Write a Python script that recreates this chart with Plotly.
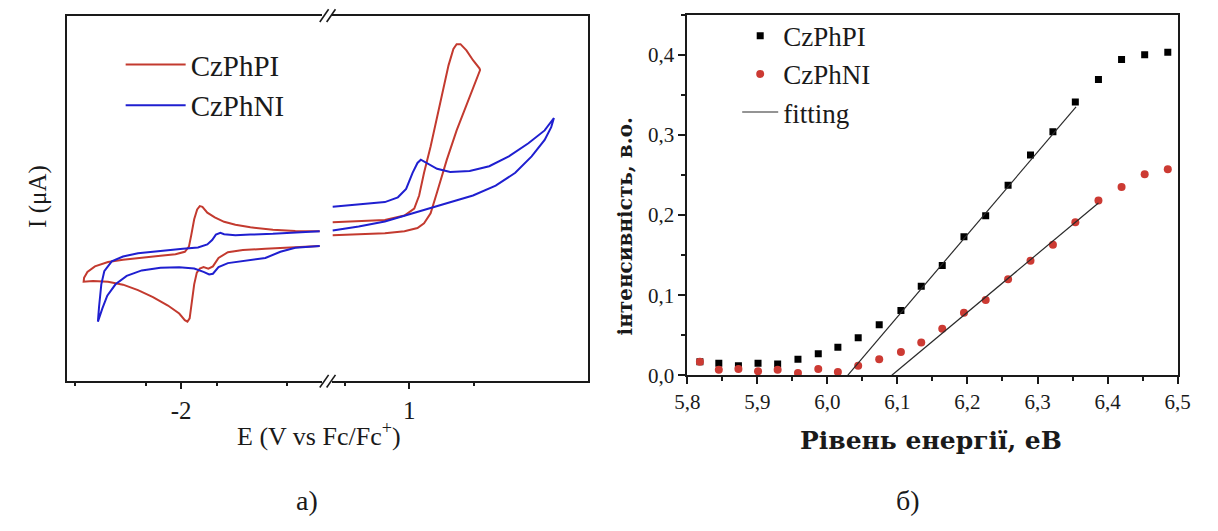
import plotly.graph_objects as go

W, H = 1218, 531

# ---------------- Panel a) : cyclic voltammetry ----------------
# reduction window (left of the axis break), E in V vs Fc/Fc+, I in arbitrary uA
pi_red_E = [-0.046, -0.39, -0.706, -1.023, -1.234, -1.393, -1.525, -1.630, -1.699, -1.736, -1.773,
            -1.815, -1.857, -1.889, -1.947, -2.079, -2.29, -2.554, -2.818, -3.03, -3.214, -3.32,
            -3.367, -3.373, -3.241, -3.03, -2.818, -2.607, -2.396, -2.185, -2.026, -1.947, -1.91,
            -1.879, -1.847, -1.815, -1.778, -1.736, -1.683, -1.615, -1.551, -1.472, -1.34, -1.129,
            -0.812, -0.495, -0.046]
pi_red_I = [41.05, 41.1, 41.4, 42.1, 42.8, 43.6, 44.8, 46.1, 47.7, 47.9, 47.0,
            44.3, 39.9, 36.8, 35.4, 34.7, 34.3, 33.8, 33.2, 32.6, 31.4, 29.9,
            28.3, 27.2, 27.4, 27.2, 26.4, 24.9, 23.0, 20.7, 18.5, 16.7, 16.3,
            17.2, 21.2, 26.5, 29.7, 30.8, 31.2, 30.8, 31.4, 33.7, 35.3, 35.9,
            36.2, 36.5, 37.0]
ni_red_E = [-0.046, -0.39, -0.706, -1.023, -1.234, -1.393, -1.446, -1.509, -1.562, -1.63, -1.762,
            -1.974, -2.185, -2.396, -2.607, -2.818, -2.977, -3.082, -3.124, -3.156, -3.172,
            -3.109, -3.04, -2.924, -2.766, -2.554, -2.29, -2.026, -1.815, -1.683, -1.604, -1.551,
            -1.472, -1.34, -1.129, -0.812, -0.6, -0.39, -0.046]
ni_red_I = [41.0, 40.6, 40.3, 40.1, 39.9, 40.2, 40.6, 40.1, 38.6, 37.4, 36.6,
            36.2, 35.8, 35.4, 35.0, 34.1, 32.8, 30.1, 26.5, 20.3, 16.3,
            19.9, 23.4, 26.5, 28.8, 30.3, 31.0, 31.2, 30.8, 29.9, 29.2, 29.4,
            31.2, 32.3, 32.8, 33.7, 35.4, 36.5, 37.0]

# oxidation window (right of the axis break)
pi_ox_E = [0.405, 0.607, 0.81, 0.962, 1.063, 1.114, 1.165, 1.215, 1.291, 1.367, 1.443, 1.506, 1.549,
           1.544, 1.494, 1.443, 1.397, 1.367, 1.342, 1.304, 1.266, 1.215, 1.165, 1.114, 1.076,
           1.038, 0.962, 0.81, 0.607, 0.405]
pi_ox_I = [39.9, 40.1, 40.5, 41.0, 41.9, 43.2, 45.9, 51.7, 60.6, 68.6, 75.7, 81.6, 85.1,
           85.6, 87.8, 90.5, 92.2, 92.2, 90.9, 86.4, 80.2, 72.2, 64.2, 57.0, 50.8,
           47.2, 45.3, 44.1, 43.7, 43.5]
ni_ox_E = [0.405, 0.607, 0.81, 0.911, 0.975, 1.025, 1.063, 1.089, 1.139, 1.215, 1.317, 1.468, 1.62,
           1.772, 1.924, 2.05, 2.122, 2.101, 2.05, 1.949, 1.822, 1.67, 1.494, 1.317, 1.165,
           0.987, 0.81, 0.607, 0.405]
ni_ox_I = [47.7, 48.3, 49.0, 50.3, 52.6, 57.0, 59.7, 60.6, 59.7, 58.1, 57.2, 57.5, 58.8,
           61.5, 65.1, 68.6, 72.0, 69.5, 66.0, 61.5, 57.0, 53.5, 50.8, 49.0, 47.4,
           45.5, 43.7, 42.3, 41.2]

# tick labels of the broken E axis
red_ticks = [-2]
red_ticktext = ["-2"]
ox_ticks = [1]
ox_ticktext = ["1"]

# ---------------- Panel б) : photoelectron yield ----------------
energy = [5.818, 5.845, 5.873, 5.901, 5.929, 5.958, 5.987, 6.015, 6.044, 6.074, 6.105, 6.134,
          6.164, 6.195, 6.226, 6.258, 6.290, 6.322, 6.354, 6.387, 6.420, 6.453, 6.486]
yield_pi = [0.017, 0.015, 0.012, 0.015, 0.014, 0.020, 0.027, 0.035, 0.047, 0.063, 0.081, 0.111,
            0.137, 0.173, 0.199, 0.237, 0.275, 0.304, 0.341, 0.369, 0.394, 0.400, 0.403]
yield_ni = [0.017, 0.007, 0.008, 0.005, 0.007, 0.003, 0.008, 0.004, 0.012, 0.020, 0.029, 0.041,
            0.058, 0.078, 0.094, 0.120, 0.143, 0.163, 0.191, 0.218, 0.235, 0.251, 0.257]
fit_pi_E = [6.029, 6.355]
fit_pi_Y = [0.0, 0.335]
fit_ni_E = [6.092, 6.387]
fit_ni_Y = [0.0, 0.215]

RED = "#c33a2f"
BLUE = "#1f1fd0"
PRED = "#cc3a33"
INK = "#1a1a1a"
SERIF = "Liberation Serif, Times New Roman, serif"
BOLDSERIF = "DejaVu Serif, Liberation Serif, serif"

fig = go.Figure()

fig.add_trace(go.Scatter(x=pi_red_E, y=pi_red_I, mode="lines", name="CzPhPI",
                         line=dict(color=RED, width=2), xaxis="x", yaxis="y", legend="legend"))
fig.add_trace(go.Scatter(x=ni_red_E, y=ni_red_I, mode="lines", name="CzPhNI",
                         line=dict(color=BLUE, width=2), xaxis="x", yaxis="y", legend="legend"))
fig.add_trace(go.Scatter(x=pi_ox_E, y=pi_ox_I, mode="lines", name="CzPhPI", showlegend=False,
                         line=dict(color=RED, width=2), xaxis="x2", yaxis="y2"))
fig.add_trace(go.Scatter(x=ni_ox_E, y=ni_ox_I, mode="lines", name="CzPhNI", showlegend=False,
                         line=dict(color=BLUE, width=2), xaxis="x2", yaxis="y2"))

fig.add_trace(go.Scatter(x=energy, y=yield_pi, mode="markers", name="CzPhPI",
                         marker=dict(symbol="square", size=7, color="#000000"),
                         xaxis="x3", yaxis="y3", legend="legend2"))
fig.add_trace(go.Scatter(x=energy, y=yield_ni, mode="markers", name="CzPhNI",
                         marker=dict(symbol="circle", size=8, color=PRED),
                         xaxis="x3", yaxis="y3", legend="legend2"))
fig.add_trace(go.Scatter(x=fit_pi_E, y=fit_pi_Y, mode="lines", name="fitting",
                         line=dict(color="#2a2a2a", width=1.2),
                         xaxis="x3", yaxis="y3", legend="legend2"))
fig.add_trace(go.Scatter(x=fit_ni_E, y=fit_ni_Y, mode="lines", name="fitting", showlegend=False,
                         line=dict(color="#2a2a2a", width=1.2),
                         xaxis="x3", yaxis="y3"))

def px(p):
    return p / W

def py(p):
    return 1 - p / H

axline = dict(showline=True, linecolor=INK, linewidth=1.8, showgrid=False, zeroline=False)
tk = dict(ticks="outside", tickwidth=1.5, tickcolor=INK)

LEFT_RANGE = [-3.610, -0.010]
RIGHT_RANGE = [0.400, 2.390]

fig.update_layout(
    width=W, height=H, margin=dict(l=0, r=0, t=0, b=0),
    paper_bgcolor="white", plot_bgcolor="white",
    separators=", ",
    font=dict(family=SERIF, color=INK),
    xaxis=dict(domain=[px(55), px(316)], range=LEFT_RANGE, anchor="y", mirror=True,
               ticklen=6, tickvals=red_ticks, ticktext=red_ticktext, tickfont=dict(size=25),
               minor=dict(tickvals=[-3.5, -2.5, -1.5, -0.5], ticklen=3, **tk), **tk, **axline),
    # unlabeled major ticks of the reduction window
    xaxis4=dict(overlaying="x", range=LEFT_RANGE, anchor="y", ticklen=6, tickvals=[-3, -1],
                showticklabels=False, showline=False, showgrid=False, zeroline=False, **tk),
    yaxis=dict(domain=[py(390), py(16)], range=[0, 100], anchor="x", ticks="",
               showticklabels=False, **axline),
    xaxis2=dict(domain=[px(326), px(588)], range=RIGHT_RANGE, anchor="y2", mirror=True,
                ticklen=6, tickvals=ox_ticks, ticktext=ox_ticktext, tickfont=dict(size=25),
                minor=dict(tickvals=[0.5, 1.5], ticklen=3, **tk), **tk, **axline),
    xaxis5=dict(overlaying="x2", range=RIGHT_RANGE, anchor="y2", ticklen=6, tickvals=[2],
                showticklabels=False, showline=False, showgrid=False, zeroline=False, **tk),
    yaxis2=dict(domain=[py(390), py(16)], range=[0, 100], anchor="x2", side="right", ticks="",
                showticklabels=False, **axline),
    xaxis3=dict(domain=[px(689), px(1190)], range=[5.8, 6.5], anchor="y3", mirror=True,
                tick0=5.8, dtick=0.1, tickformat=".1f", ticklen=7, tickfont=dict(size=21),
                minor=dict(dtick=0.05, ticklen=4, **tk), **tk, **axline),
    yaxis3=dict(domain=[py(384), py(15)], range=[0, 0.45], anchor="x3", mirror=True,
                tickvals=[0, 0.1, 0.2, 0.3, 0.4], tickformat=".1f", ticklen=7,
                tickfont=dict(size=21),
                minor=dict(dtick=0.05, ticklen=4, **tk), **tk, **axline),
    legend=dict(x=px(110), y=py(40), xanchor="left", yanchor="top", bgcolor="rgba(0,0,0,0)",
                itemwidth=60, font=dict(size=29, family=SERIF, color=INK)),
    legend2=dict(x=px(740), y=py(12), xanchor="left", yanchor="top", bgcolor="rgba(0,0,0,0)",
                 itemwidth=36, font=dict(size=27, family=SERIF, color=INK)),
    showlegend=True,
)

annotations = [
    dict(text="E (V vs Fc/Fc<sup>+</sup>)", x=px(313), y=py(445), font=dict(size=26, family=SERIF)),
    dict(text="I (μA)", x=px(26), y=py(201), textangle=-90, font=dict(size=25, family=SERIF)),
    dict(text="<b>Рівень енергії, еВ</b>", x=px(938), y=py(451), font=dict(size=25, family=BOLDSERIF)),
    dict(text="<b>інтенсивність, в.о.</b>", x=px(625), y=py(232), textangle=-90,
         font=dict(size=20, family=BOLDSERIF)),
    dict(text="а)", x=px(300), y=py(512), font=dict(size=28, family=SERIF)),
    dict(text="б)", x=px(915), y=py(512), font=dict(size=28, family=SERIF)),
]
for a in annotations:
    a.update(xref="paper", yref="paper", showarrow=False, xanchor="center", yanchor="middle")
    a["font"].update(color=INK)
fig.update_layout(annotations=annotations)

# axis-break marks "//" on the top and bottom frame lines of panel a)
shapes = []
for cy in (16, 390):
    for cx in (318, 325):
        shapes.append(dict(type="line", xref="paper", yref="paper",
                           x0=px(cx - 4.5), y0=py(cy + 6.5), x1=px(cx + 4.5), y1=py(cy - 6.5),
                           line=dict(color=INK, width=1.6)))
fig.update_layout(shapes=shapes)

fig.write_html("out.html")
